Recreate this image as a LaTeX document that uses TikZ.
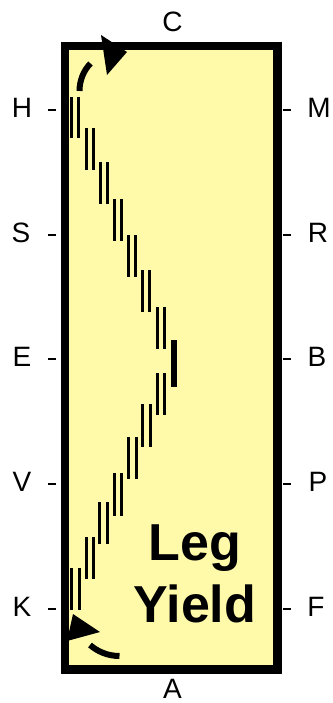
\documentclass[tikz,border=0pt]{standalone}
\usepackage{fontspec}
\setmainfont{Liberation Sans}
\definecolor{arena}{RGB}{255,250,170}
\begin{document}
\begin{tikzpicture}[x=1pt,y=-1pt,
    track/.style={line width=3pt},
    letter/.style={inner sep=0pt,font=\fontsize{28}{30}\selectfont},
    tick/.style={line width=2.2pt}]
            \useasboundingbox (0,0) rectangle (332,703);
            \draw[line width=8.4pt,fill=arena] (65,46) rectangle (277.5,669.5);
            % letters round the arena
            \node[letter] (C) at (172.5,22) {C};
            \node[letter] (A) at (172.5,689) {A};
            \node[letter] (H) at (22,108) {H};
            \node[letter] (S) at (21,232.5) {S};
            \node[letter] (E) at (22,357) {E};
            \node[letter] (V) at (22,482) {V};
            \node[letter] (K) at (22,607) {K};
            \node[letter] (M) at (319,108) {M};
            \node[letter] (R) at (318,232.5) {R};
            \node[letter] (B) at (317,357) {B};
            \node[letter] (P) at (318,482) {P};
            \node[letter] (F) at (316,607) {F};
            \draw[tick] (48,110) -- (56,110);
            \draw[tick] (48,235) -- (56,235);
            \draw[tick] (48,359) -- (56,359);
            \draw[tick] (48,484) -- (56,484);
            \draw[tick] (48,609) -- (56,609);
            \draw[tick] (283,110) -- (291,110);
            \draw[tick] (283,235) -- (291,235);
            \draw[tick] (283,359) -- (291,359);
            \draw[tick] (283,484) -- (291,484);
            \draw[tick] (283,609) -- (291,609);
            % tracks away from the wall
            \draw[track] (71,97) -- (71,138) (78,97) -- (78,138);
            \draw[track] (86,128) -- (86,170) (93,128) -- (93,170);
            \draw[track] (100,162) -- (100,204) (107,162) -- (107,204);
            \draw[track] (114,199) -- (114,241) (121,199) -- (121,241);
            \draw[track] (128,235) -- (128,277) (135,235) -- (135,277);
            \draw[track] (142,270) -- (142,312) (149,270) -- (149,312);
            \draw[track] (157,307) -- (157,349) (164,307) -- (164,349);
            \draw[line width=6pt] (173.7,340) -- (173.7,387);
            % tracks back to the wall
            \draw[track] (157,373) -- (157,415) (164,373) -- (164,415);
            \draw[track] (142,404) -- (142,447) (150,404) -- (150,447);
            \draw[track] (128,437) -- (128,479) (136,437) -- (136,479);
            \draw[track] (114,473) -- (114,516) (121,473) -- (121,516);
            \draw[track] (99,502) -- (99,544) (107,502) -- (107,544);
            \draw[track] (86,537) -- (86,579) (93,537) -- (93,579);
            \draw[track] (71,568) -- (71,610) (79,568) -- (79,610);
            % turns at the corners
            \draw[line width=6pt] (79.5,91) .. controls (79.5,80) and (84,70) .. (90.5,63.5);
            \fill (101,35) -- (127,52) -- (107,75) -- cycle;
            \draw[line width=6pt] (90,645) .. controls (97,651) and (107,656) .. (119.5,656);
            \fill (73,614) -- (100,632) -- (67,641) -- cycle;
            \node[font=\bfseries\fontsize{52}{62}\selectfont,anchor=base] (leg) at (195,560) {Leg};
            \node[font=\bfseries\fontsize{52}{62}\selectfont,anchor=base] (yield) at (195,622) {Yield};
        \end{tikzpicture}
\end{document}
